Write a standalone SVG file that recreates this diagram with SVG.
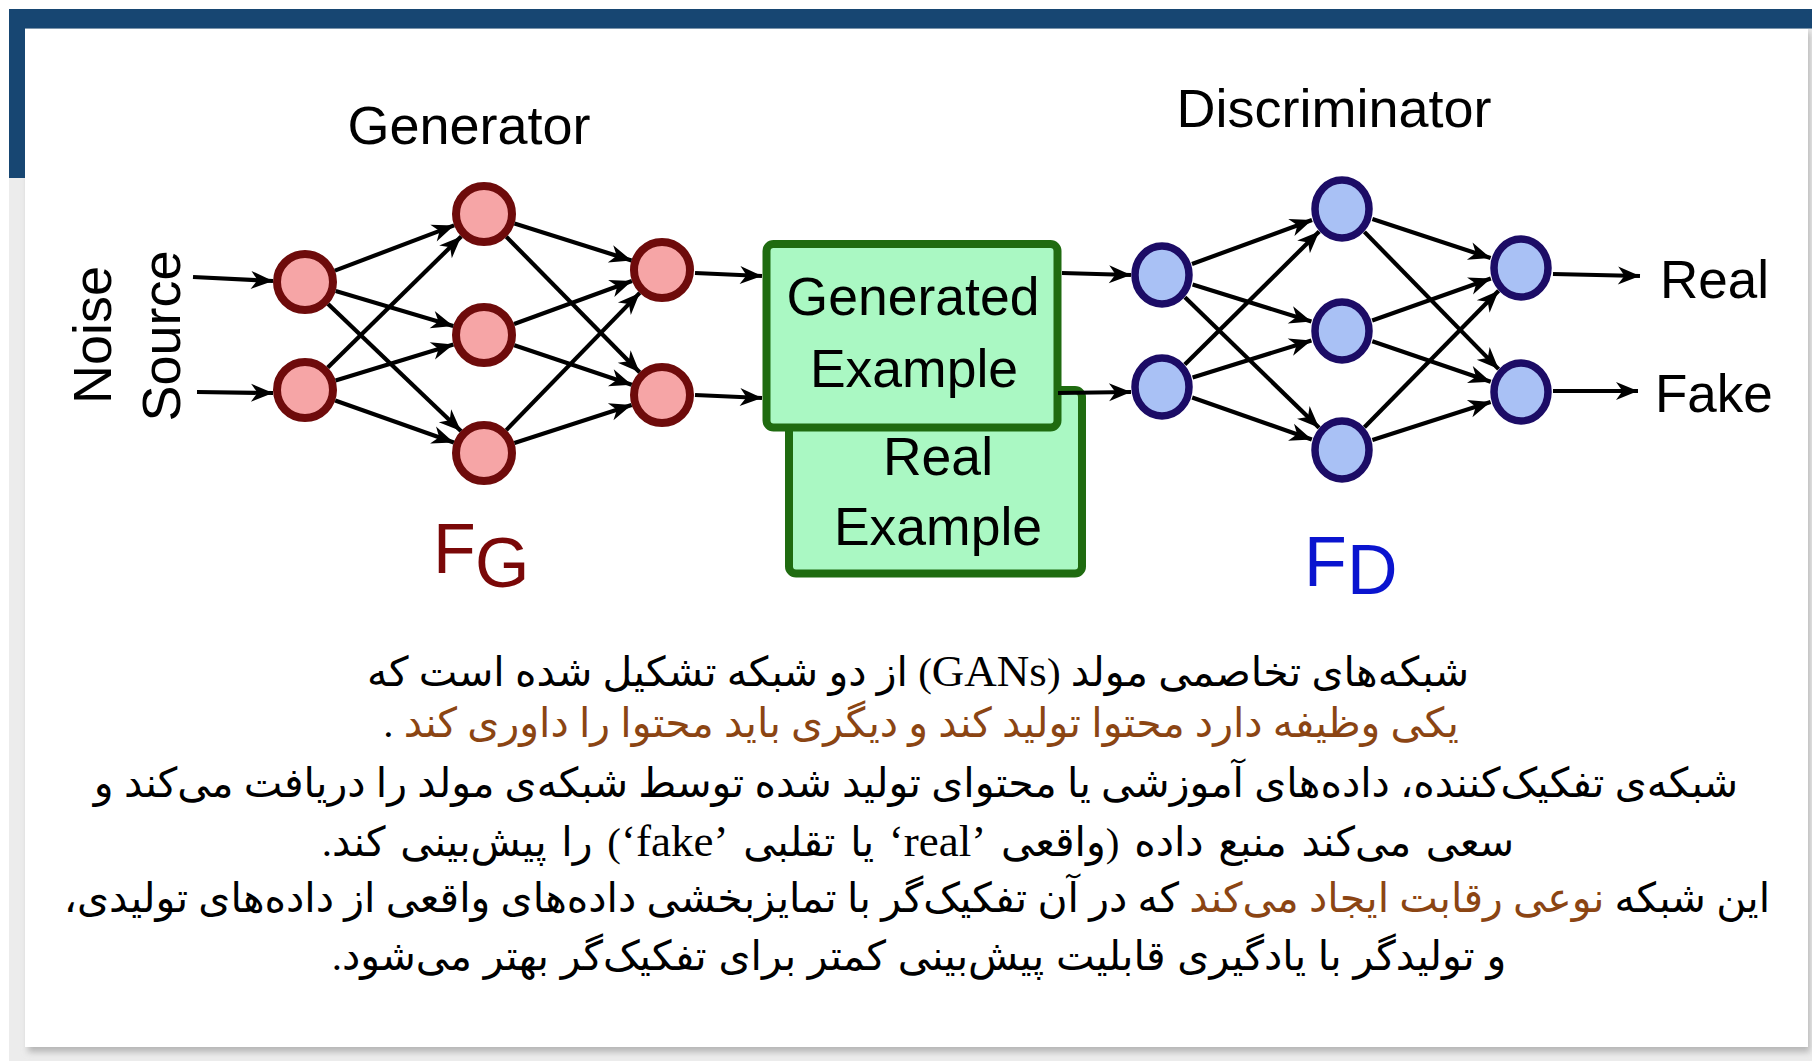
<svg xmlns="http://www.w3.org/2000/svg" width="1812" height="1061" viewBox="0 0 1812 1061">
<defs>
<style>
.gen circle{fill:#f6a5a6;stroke:#6e0b0b;stroke-width:8}
.dis ellipse{fill:#a9c1f5;stroke:#1c0c66;stroke-width:7.5}
.box{fill:#aaf8c3;stroke:#1f6b10;stroke-width:8}
.lbl{font-family:"Liberation Sans",Arial,sans-serif;fill:#000}
.con line{stroke:#000;stroke-width:4.2;marker-end:url(#arr)}
.fa{font-family:"Liberation Serif","DejaVu Sans",serif;font-size:41px;fill:#000}
.br{fill:#8b4513}
.lat{font-size:45px}
</style>
<marker id="arr" viewBox="-23 -10 25 20" refX="0" refY="0" markerWidth="25" markerHeight="20" orient="auto" markerUnits="userSpaceOnUse">
<path d="M0,0 L-22,-9 L-15.5,0 L-22,9 Z" fill="#000"/>
</marker>
<filter id="sh" x="-5%" y="-5%" width="110%" height="110%">
<feGaussianBlur stdDeviation="3"/>
</filter>
</defs>
<rect x="0" y="0" width="1812" height="1061" fill="#fff"/>
<rect x="9" y="9" width="1803" height="1052" fill="#ececec"/>
<rect x="28" y="32" width="1782" height="1020" fill="#b5b5b5" filter="url(#sh)"/>
<rect x="25" y="29" width="1783" height="1018" fill="#fff"/>
<rect x="9" y="9" width="1803" height="19.5" fill="#174672"/>
<rect x="9" y="9" width="16" height="169" fill="#174672"/>

<g id="labels" class="lbl">
<text x="469" y="144" font-size="54" text-anchor="middle">Generator</text>
<text x="1334" y="127" font-size="54" text-anchor="middle">Discriminator</text>
<text transform="translate(111,335) rotate(-90)" font-size="54" text-anchor="middle">Noise</text>
<text transform="translate(180,336) rotate(-90)" font-size="54" text-anchor="middle">Source</text>
<text x="1660" y="298" font-size="53">Real</text>
<text x="1655" y="412" font-size="53">Fake</text>
</g>
<g id="fg"><text x="433" y="573" font-family="Liberation Sans,Arial,sans-serif" font-size="70" fill="#7a0808">F<tspan x="475" y="587">G</tspan></text></g>
<g id="fd"><text x="1304" y="586" font-family="Liberation Sans,Arial,sans-serif" font-size="70" fill="#0a14cf">F<tspan x="1347" y="594">D</tspan></text></g>

<g id="real-example">
<rect class="box" x="789" y="390" width="293" height="183.5" rx="7"/>
<text class="lbl" x="938" y="475" font-size="53.5" text-anchor="middle">Real</text>
<text class="lbl" x="938" y="545" font-size="53.5" text-anchor="middle">Example</text>
</g>
<g id="generated-example">
<rect class="box" x="766.5" y="244" width="291" height="183.5" rx="7"/>
<text class="lbl" x="913" y="315" font-size="53.5" text-anchor="middle">Generated</text>
<text class="lbl" x="914" y="387" font-size="53.5" text-anchor="middle">Example</text>
</g>

<g class="gen">
<g id="g1a"><circle cx="305" cy="282" r="28"/></g>
<g id="g1b"><circle cx="305" cy="390" r="28"/></g>
<g id="g2a"><circle cx="484" cy="214" r="28"/></g>
<g id="g2b"><circle cx="484" cy="335" r="28"/></g>
<g id="g2c"><circle cx="484" cy="453" r="28"/></g>
<g id="g3a"><circle cx="662" cy="270" r="28"/></g>
<g id="g3b"><circle cx="662" cy="395" r="28"/></g>
</g>
<g class="dis">
<g id="d1a"><ellipse cx="1162" cy="275" rx="27" ry="29"/></g>
<g id="d1b"><ellipse cx="1162" cy="387" rx="27" ry="29"/></g>
<g id="d2a"><ellipse cx="1342" cy="209" rx="27" ry="29"/></g>
<g id="d2b"><ellipse cx="1342" cy="331" rx="27" ry="29"/></g>
<g id="d2c"><ellipse cx="1342" cy="450" rx="27" ry="29"/></g>
<g id="d3a"><ellipse cx="1521" cy="268" rx="27" ry="29"/></g>
<g id="d3b"><ellipse cx="1521" cy="392" rx="27" ry="29"/></g>
</g>

<g id="connectors" class="con">
<line x1="193" y1="277" x2="273" y2="281"/>
<line x1="197" y1="392" x2="273" y2="393"/>
<line x1="334.9" y1="270.6" x2="454.1" y2="225.4"/>
<line x1="335.7" y1="291.1" x2="453.3" y2="325.9"/>
<line x1="328.1" y1="304.1" x2="460.9" y2="430.9"/>
<line x1="327.8" y1="367.6" x2="461.2" y2="236.4"/>
<line x1="335.6" y1="380.6" x2="453.4" y2="344.4"/>
<line x1="335.2" y1="400.6" x2="453.8" y2="442.4"/>
<line x1="514.5" y1="223.6" x2="631.5" y2="260.4"/>
<line x1="506.4" y1="236.8" x2="639.6" y2="372.2"/>
<line x1="514.1" y1="324.0" x2="631.9" y2="281.0"/>
<line x1="514.3" y1="345.2" x2="631.7" y2="384.8"/>
<line x1="506.3" y1="430.1" x2="639.7" y2="292.9"/>
<line x1="514.4" y1="443.1" x2="631.6" y2="404.9"/>
<line x1="695" y1="273" x2="762" y2="276"/>
<line x1="695" y1="395" x2="762" y2="398"/>
<line x1="1062" y1="273" x2="1131" y2="275"/>
<line x1="1058" y1="393" x2="1131" y2="392"/>
<line x1="1192.0" y1="264.0" x2="1312.0" y2="220.0"/>
<line x1="1192.6" y1="284.5" x2="1311.4" y2="321.5"/>
<line x1="1184.9" y1="297.3" x2="1319.1" y2="427.7"/>
<line x1="1184.8" y1="364.5" x2="1319.2" y2="231.5"/>
<line x1="1192.6" y1="377.5" x2="1311.4" y2="340.5"/>
<line x1="1192.2" y1="397.6" x2="1311.8" y2="439.4"/>
<line x1="1372.4" y1="219.0" x2="1490.6" y2="258.0"/>
<line x1="1364.4" y1="231.9" x2="1498.6" y2="369.1"/>
<line x1="1372.2" y1="320.4" x2="1490.8" y2="278.6"/>
<line x1="1372.3" y1="341.3" x2="1490.7" y2="381.7"/>
<line x1="1364.4" y1="427.2" x2="1498.6" y2="290.8"/>
<line x1="1372.4" y1="440.1" x2="1490.6" y2="401.9"/>
<line x1="1553" y1="274" x2="1640" y2="276"/>
<line x1="1553" y1="391" x2="1638" y2="391"/>
</g>

<g id="caption" class="fa" text-anchor="middle" direction="rtl">
<text x="918" y="686" direction="rtl">شبکه‌های تخاصمی مولد (<tspan class="lat">GANs</tspan>) از دو شبکه تشکیل شده است که</text>
<text x="921" y="737" direction="rtl"><tspan class="br">یکی وظیفه دارد محتوا تولید کند و دیگری باید محتوا را داوری کند</tspan> .</text>
<text x="916" y="797" direction="rtl">شبکه‌ی تفکیک‌کننده، داده‌های آموزشی یا محتوای تولید شده توسط شبکه‌ی مولد را دریافت می‌کند و</text>
<text x="918" y="856" direction="rtl" word-spacing="4.5">سعی می‌کند منبع داده (واقعی <tspan class="lat">’real‘</tspan> یا تقلبی <tspan class="lat">’fake‘</tspan>) را پیش‌بینی کند.</text>
<text x="917" y="912" direction="rtl">این شبکه <tspan class="br">نوعی رقابت ایجاد می‌کند</tspan> که در آن تفکیک‌گر با تمایزبخشی داده‌های واقعی از داده‌های تولیدی،</text>
<text x="919" y="970" direction="rtl" word-spacing="1.5">و تولیدگر با یادگیری قابلیت پیش‌بینی کمتر برای تفکیک‌گر بهتر می‌شود.</text>
</g>
</svg>
